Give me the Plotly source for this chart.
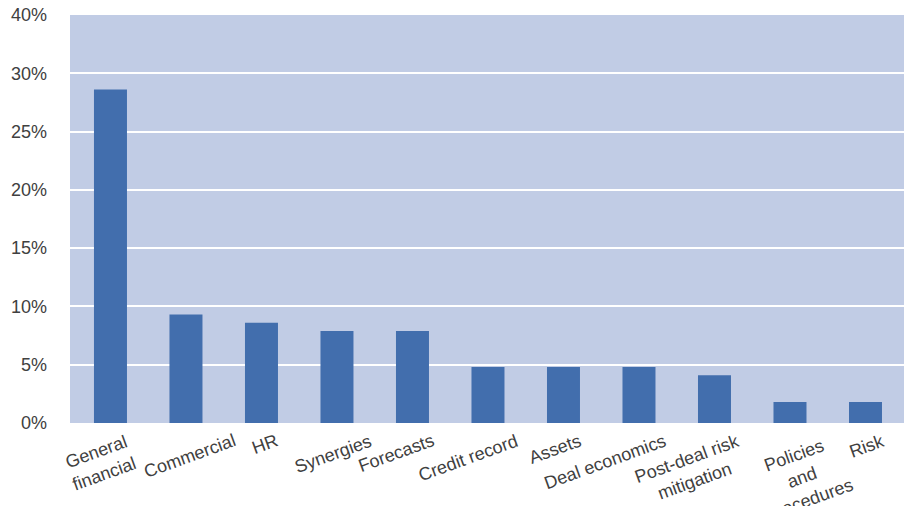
import plotly.graph_objects as go

categories = ["General<br>financial", "Commercial", "HR", "Synergies", "Forecasts",
              "Credit record", "Assets", "Deal economics", "Post-deal risk<br>mitigation",
              "Policies<br>and<br>procedures", "Risk"]
values = [28.6, 9.3, 8.6, 7.9, 7.9, 4.8, 4.8, 4.8, 4.1, 1.8, 1.8]
tick_vals = [0, 5, 10, 15, 20, 25, 30, 35]
tick_text = ["0%", "5%", "10%", "15%", "20%", "25%", "30%", "40%"]

# label placement tweaks (pixels), styling only
label_xshift = [-10, 4, 4, -4, -16, -20, -8, -34, -23, 12, 2]

FONT = "Liberation Sans, Arial, sans-serif"
TXT = "#404040"

fig = go.Figure(go.Bar(
    x=list(range(len(categories))), y=values,
    marker=dict(color="#426EAD", line=dict(width=0)),
    width=0.437,
))

annotations = []
for i, c in enumerate(categories):
    annotations.append(dict(
        x=i, y=0, xref="x", yref="y", text=c, showarrow=False,
        textangle=-20, xanchor="center", yanchor="top", yshift=-5,
        xshift=label_xshift[i],
        font=dict(family=FONT, size=18, color=TXT), align="center",
    ))

fig.update_layout(
    width=904, height=506,
    margin=dict(l=70, r=0, t=15, b=83, autoexpand=False),
    paper_bgcolor="white", plot_bgcolor="#C1CCE5",
    showlegend=False,
    annotations=annotations,
    font=dict(family=FONT, size=18, color=TXT),
)
fig.update_xaxes(range=[-0.536, len(categories) - 0.49], showticklabels=False,
                 showgrid=False, zeroline=False, showline=False, ticks="",
                 automargin=False)
fig.update_yaxes(range=[0, 35], tickvals=tick_vals, ticktext=tick_text,
                 showgrid=True, gridcolor="white", gridwidth=2, zeroline=False,
                 showline=False, ticks="", ticklabelstandoff=22, automargin=False,
                 tickfont=dict(family=FONT, size=18, color=TXT))

fig.write_html(
    "out.html",
    config={"displayModeBar": False},
    post_script="document.body.style.margin='0';document.body.style.overflow='hidden';",
)
